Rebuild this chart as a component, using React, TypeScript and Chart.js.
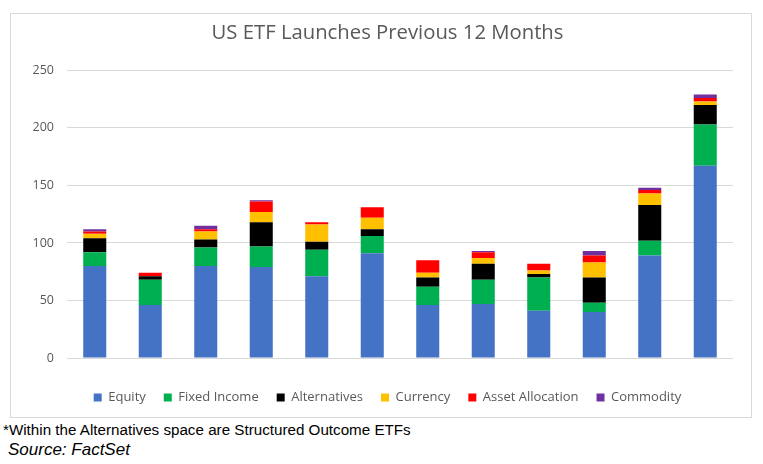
import React, { useEffect, useRef } from "react";
import { Chart, registerables } from "chart.js";

Chart.register(...registerables);

const months = ["Jul", "Aug", "Sep", "Oct", "Nov", "Dec", "Jan", "Feb", "Mar", "Apr", "May", "Jun"];

const equity = [80, 46, 80, 79, 71, 91, 46, 47, 41, 40, 89, 167];
const fixedIncome = [12, 22, 16, 18, 23, 15, 16, 21, 29, 8, 13, 36];
const alternatives = [12, 3, 7, 21, 7, 6, 8, 14, 3, 22, 31, 17];
const currency = [4, 0, 7, 9, 15, 10, 4, 5, 3, 13, 10, 3];
const assetAllocation = [2, 3, 2, 9, 2, 9, 11, 5, 6, 6, 3, 3];
const commodity = [2, 0, 3, 1, 0, 0, 0, 1, 0, 4, 2, 3];

const yTicks = [0, 50, 100, 150, 200, 250];

const seriesNames = ["Equity", "Fixed Income", "Alternatives", "Currency", "Asset Allocation", "Commodity"];
const seriesColors = ["#4472C4", "#00B050", "#000000", "#FFC000", "#FF0000", "#7030A0"];
const seriesValues = [equity, fixedIncome, alternatives, currency, assetAllocation, commodity];

const TEXT = "#595959";
const GRID = "#d9d9d9";
const FONT = "'Open Sans', sans-serif";

export default function App() {
  const canvasRef = useRef<HTMLCanvasElement | null>(null);

  useEffect(() => {
    const canvas = canvasRef.current;
    if (!canvas) return;
    const chart = new Chart(canvas, {
      type: "bar",
      data: {
        labels: months,
        datasets: seriesNames.map((name, i) => ({
          label: name,
          data: seriesValues[i],
          backgroundColor: seriesColors[i],
          borderWidth: 0,
          barPercentage: 0.83,
          categoryPercentage: 0.5,
        })),
      },
      options: {
        responsive: false,
        animation: false,
        devicePixelRatio: 1,
        layout: { padding: { left: 13, right: 0, top: 0, bottom: 3 } },
        plugins: {
          title: {
            display: true,
            text: "US ETF Launches Previous 12 Months",
            color: TEXT,
            font: { family: FONT, size: 20.3, weight: "normal" },
            padding: { top: 7, bottom: 25 },
          },
          legend: {
            display: true,
            position: "bottom",
            labels: {
              boxWidth: 8,
              boxHeight: 8,
              padding: 18,
              color: TEXT,
              font: { family: FONT, size: 13 },
            },
          },
          tooltip: { enabled: false },
        },
        scales: {
          x: {
            stacked: true,
            grid: { display: false },
            border: { display: false },
            ticks: {
              color: TEXT,
              font: { family: FONT, size: 12.5 },
              padding: 7,
              maxRotation: 0,
            },
            afterFit: (s: any) => {
              s.height = 15;
            },
          },
          y: {
            stacked: true,
            min: 0,
            max: 250,
            afterBuildTicks: (s: any) => {
              s.ticks = yTicks.map((v) => ({ value: v }));
            },
            grid: { color: GRID, drawTicks: false, lineWidth: 1 },
            border: { display: false },
            ticks: {
              color: TEXT,
              font: { family: FONT, size: 12.5 },
              padding: 13,
            },
            afterFit: (s: any) => {
              s.width = 43;
            },
          },
          // empty right-hand gutter between the plot and the frame
          gutter: {
            type: "linear",
            position: "right",
            display: true,
            grid: { display: false },
            border: { display: false },
            ticks: { display: false },
            afterFit: (s: any) => {
              s.width = 18;
            },
          },
        },
      },
    });
    return () => chart.destroy();
  }, []);

  return (
    <div
      style={{
        position: "fixed",
        left: 0,
        top: 0,
        width: 763,
        height: 464,
        background: "#ffffff",
        overflow: "hidden",
      }}
    >
      <div
        style={{
          position: "absolute",
          left: 10,
          top: 13,
          width: 742,
          height: 405,
          boxSizing: "border-box",
          border: `1px solid ${GRID}`,
        }}
      >
        <canvas ref={canvasRef} width={740} height={403} style={{ display: "block" }} />
      </div>
      <div
        style={{
          position: "absolute",
          left: 3,
          top: 421,
          fontFamily: "'Liberation Sans', Arial, sans-serif",
          fontSize: 15.2,
          lineHeight: "18px",
          color: "#000",
          whiteSpace: "nowrap",
        }}
      >
        *Within the Alternatives space are Structured Outcome ETFs
      </div>
      <div
        style={{
          position: "absolute",
          left: 8,
          top: 441,
          fontFamily: "'Liberation Sans', Arial, sans-serif",
          fontSize: 17,
          fontStyle: "italic",
          lineHeight: "18px",
          color: "#000",
          whiteSpace: "nowrap",
        }}
      >
        Source: FactSet
      </div>
    </div>
  );
}
